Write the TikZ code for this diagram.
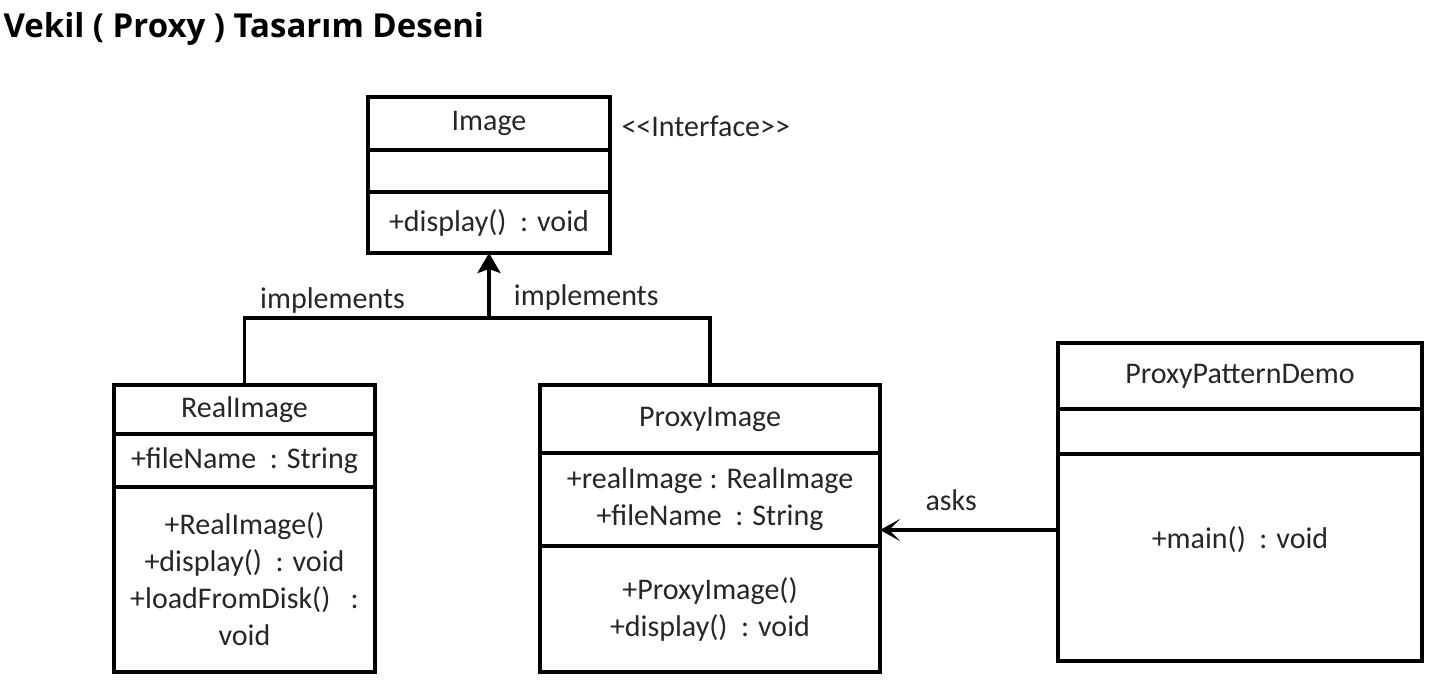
\documentclass[tikz,border=0pt]{standalone}
\usepackage{fontspec}
\setmainfont{Carlito}
\newfontfamily\titlefont{Open Sans}
\usetikzlibrary{positioning, arrows.meta}

\begin{document}
\begin{tikzpicture}[x=1pt, y=-1pt, node distance=0pt,
    umlbox/.style={draw, line width=3.5pt, outer sep=0pt, inner sep=0pt, align=center, text=black!85, font=\fontsize{30}{37}\selectfont},
    umltext/.style={text=black!85, font=\fontsize{30}{37}\selectfont},
    link/.style={line width=3.5pt}]
  \useasboundingbox (0,0) rectangle (1447,682);

  \node[anchor=base west, font=\titlefont\bfseries\fontsize{33}{40}\selectfont]  (title)  at (0,37.5)  {Vekil ( Proxy ) Tasarım Deseni};

  \node[umlbox, minimum width=242pt, minimum height=53pt]  (imgname)  at (489,123.5)  {Image};
  \node[umlbox, minimum width=242pt, minimum height=42pt, below=of imgname]  (imgattr)  {};
  \node[umlbox, minimum width=242pt, minimum height=61pt, below=of imgattr]  (imgops)  {+display()\ \ : void};
  \node[umltext, anchor=west]  (stereo)  at (618,126)  {<\kern0pt<Interface>\kern0pt>};

  \node[umlbox, minimum width=261pt, minimum height=49pt]  (realname)  at (244.5,409.5)  {RealImage};
  \node[umlbox, minimum width=261pt, minimum height=53pt, below=of realname]  (realattr)  {+fileName\ \ : String};
  \node[umlbox, minimum width=261pt, minimum height=185pt, below=of realattr]  (realops)  {+RealImage()\\+display()\ \ : void\\+loadFromDisk()\ \ \ :\\void};

  \node[umlbox, minimum width=340pt, minimum height=68pt]  (proxyname)  at (710,419)  {ProxyImage};
  \node[umlbox, minimum width=340pt, minimum height=93pt, below=of proxyname]  (proxyattr)  {+realImage : RealImage\\+fileName\ \ : String};
  \node[umlbox, minimum width=340pt, minimum height=126pt, below=of proxyattr]  (proxyops)  {+ProxyImage()\\+display()\ \ : void};

  \node[umlbox, minimum width=364pt, minimum height=66pt]  (demoname)  at (1240,376)  {ProxyPatternDemo};
  \node[umlbox, minimum width=364pt, minimum height=45pt, below=of demoname]  (demoattr)  {};
  \node[umlbox, minimum width=364pt, minimum height=207pt, below=of demoattr]  (demoops)  {};
  \node[umltext]  (demomain)  at ([yshift=-86pt]demoops.north)  {+main()\ \ : void};

  \coordinate (join) at (489,318);
  \coordinate (asksy) at (0,530);

  \draw[link] (realname.north) |- node[umltext, above, pos=0.68]  (implleft)  {implements} (join) -| node[umltext, above=3pt, pos=0.22]  (implright)  {implements} (proxyname.north);
  \draw[link, -{Stealth[length=20pt, width=23pt, inset=4pt]}] (join) -- (imgops.south);
  \draw[link, -{Stealth[length=20pt, width=22pt, inset=11pt]}] (demoops.west |- asksy) -- node[umltext, above=14pt, pos=0.6]  (asks)  {asks} (proxyattr.east |- asksy);
\end{tikzpicture}
\end{document}
